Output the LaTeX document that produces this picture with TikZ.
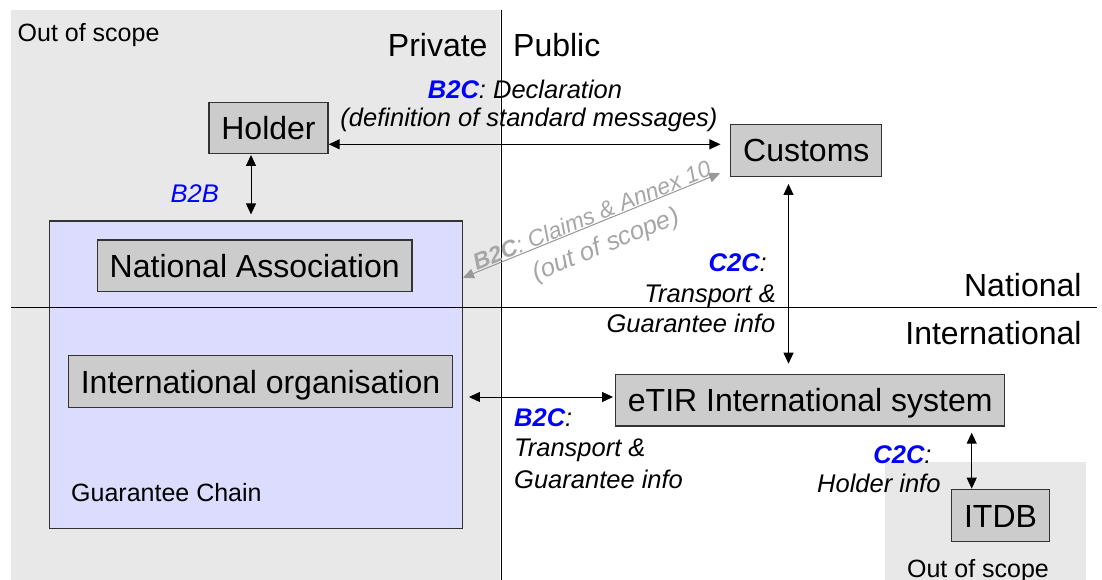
\documentclass[tikz,border=0pt]{standalone}
\usepackage{fontspec}
\setmainfont{Liberation Sans}
\usetikzlibrary{arrows.meta,calc}
\definecolor{oosgray}{HTML}{E8E8E8}
\definecolor{lav}{HTML}{DCDCFF}
\definecolor{boxgray}{HTML}{CCCCCC}
\definecolor{boxline}{HTML}{333333}
\definecolor{lblue}{HTML}{0000FF}
\definecolor{clgray}{HTML}{A6A6A6}
\definecolor{clline}{HTML}{999999}
\begin{document}
\begin{tikzpicture}[x=1pt,y=-1pt,
  box/.style={draw=boxline, line width=1.3pt, fill=boxgray, inner sep=0pt,
    font=\fontsize{32}{36}\selectfont, text height=23pt, text depth=0pt},
  dbl/.style={{Triangle[length=11pt,width=10pt]}-{Triangle[length=11pt,width=10pt]}, line width=1pt},
  gdbl/.style={{Triangle[length=11pt,width=10pt]}-{Triangle[length=11pt,width=10pt]}, line width=1pt, draw=clline, fill=clline},
  lbl/.style={font=\fontsize{25.5}{30}\selectfont\itshape, inner sep=0pt},
  big/.style={font=\fontsize{32}{36}\selectfont, inner sep=0pt},
  mid/.style={font=\fontsize{25}{30}\selectfont, inner sep=0pt},
  rot/.style={font=\fontsize{25.5}{30}\selectfont\itshape, inner sep=0pt, text=clgray, rotate=22.13},
]
\useasboundingbox (0,0) rectangle (1102,580);
% out-of-scope regions
\fill[oosgray] (11,10) rectangle (500,580);
\fill[oosgray] (885,461.7) rectangle (1086,580);
% guarantee chain
\node[draw=boxline, line width=1.3pt, fill=lav, minimum width=413pt, minimum height=307.3pt, inner sep=0pt] (gc) at (255.8,374.7) {};
% division lines
\draw[line width=1pt] (501,10) -- (501,580);
\draw[line width=1pt] (11,307.3) -- (1097,307.3);
% boxes
\node[box, minimum width=119pt, minimum height=51pt] (holder) at (268.5,127.8) {Holder};
\node[box, minimum width=151pt, minimum height=52pt] (customs) at (806.3,150.3) {Customs};
\node[box, minimum width=314.7pt, minimum height=51.7pt] (na) at (254.7,265.8) {National Association};
\node[box, minimum width=384.4pt, minimum height=51.6pt] (io) at (260.5,381.5) {International organisation};
\node[box, minimum width=389pt, minimum height=51.7pt] (etir) at (810.2,400.2) {eTIR International system};
\node[box, minimum width=97.6pt, minimum height=52.4pt] (itdb) at (1000.5,515.5) {ITDB};
% helper coordinates
\coordinate (yA) at (0,144.3);
\coordinate (xB) at (251,0);
\coordinate (yG) at (0,277.7);
\coordinate (g2) at (720,173.3);
\coordinate (xC) at (788.5,0);
\coordinate (yD) at (0,397);
\coordinate (xE) at (971.7,0);
% connectors
\draw[dbl, shorten >=9.7pt] (holder.east |- yA) -- (customs.west |- yA);
\draw[dbl, shorten <=1pt, shorten >=6pt] (holder.south -| xB) -- (gc.north -| xB);
\draw[gdbl] (gc.east |- yG) -- (g2);
\draw[dbl, shorten <=7pt, shorten >=10pt] (customs.south -| xC) -- (etir.north -| xC);
\draw[dbl, shorten <=15.6pt, shorten >=2pt] (io.east |- yD) -- (etir.west |- yD);
\draw[dbl, shorten <=6pt] (etir.south -| xE) -- (itdb.north -| xE);
% rotated label
\coordinate (g1) at (gc.east |- yG);
\coordinate (gm) at ($(g1)!0.5!(g2)$);
\coordinate (gm1) at ($(gm)!4pt!(g2)$);
\coordinate (gm2) at ($(gm)!6pt!(g2)$);
\node[rot, font=\fontsize{23}{27}\selectfont\itshape, anchor=base] (cl1) at ($(gm1)!1pt!90:(g2)$) {\textbf{B2C}: Claims \& Annex 10};
\node[rot, anchor=base] (cl2) at ($(gm2)!31pt!-90:(g2)$) {(out of scope)};
% region texts
\node[mid, anchor=base west] (oos1) at (17.5,42) {Out of scope};
\node[mid, anchor=base] (oos2) at (978,577) {Out of scope};
\node[mid, anchor=base west] (gct) at (71,501) {Guarantee Chain};
\node[big, anchor=base east] (priv) at (487.7,57) {Private};
\node[big, anchor=base west] (pub) at (513,57) {Public};
\node[big, anchor=base east] (nat) at (1081.7,296) {National};
\node[big, anchor=base east] (intl) at (1081.7,344) {International};
% connector labels
\node[lbl, anchor=base] (d1) at (525,98.3) {\textcolor{lblue}{\textbf{B2C}}: Declaration};
\node[lbl, anchor=base] (d2) at (529,126.7) {(definition of standard messages)};
\node[lbl, anchor=base east, text=lblue] (bb) at (219,203) {B2B};
\node[lbl, anchor=base east] (c1) at (767,271.7) {\textcolor{lblue}{\textbf{C2C}}:};
\node[lbl, anchor=base east] (c2) at (776,302.5) {Transport \&};
\node[lbl, anchor=base east] (c3) at (775.5,332) {Guarantee info};
\node[lbl, anchor=base west] (b1) at (514,426.7) {\textcolor{lblue}{\textbf{B2C}}:};
\node[lbl, anchor=base west] (b2) at (514,456.7) {Transport \&};
\node[lbl, anchor=base west] (b3) at (514,488.3) {Guarantee info};
\node[lbl, anchor=base east] (h1) at (931.7,463) {\textcolor{lblue}{\textbf{C2C}}:};
\node[lbl, anchor=base east] (h2) at (940.7,492.7) {Holder info};
\end{tikzpicture}
\end{document}
